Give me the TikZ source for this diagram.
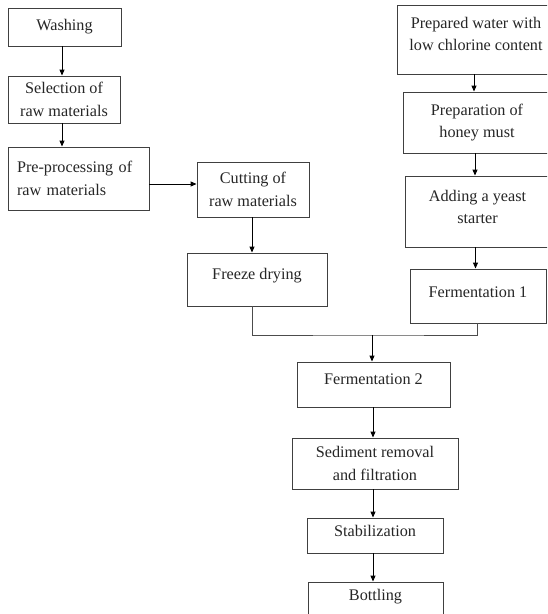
\documentclass[tikz,border=0pt]{standalone}
\usepackage{fontspec}
\setmainfont{Liberation Serif}
\usetikzlibrary{arrows.meta,calc}
\newcommand\liftup[2]{\raisebox{#1}[\height][\depth]{\begin{tabular}{@{}c@{}}#2\end{tabular}}}
\begin{document}
\begin{tikzpicture}[x=1pt,y=-1pt,
  box/.style={draw=black!75, line width=0.9pt, fill=white, align=center, inner sep=0pt,
    font=\fontsize{16.2}{22.5}\selectfont, text=black!85},
  arr/.style={draw=black, line width=0.9pt, -{Triangle[length=6pt,width=5pt]}},
  ln/.style={draw=black!70, line width=0.9pt}]
\useasboundingbox (0,0) rectangle (547,614);
\clip (0,0) rectangle (547,614);
\fill[white] (0,0) rectangle (547,614);
% left column
\node[box, minimum width=113pt, minimum height=38pt] (wash) at (64.5,27) {Washing};
\node[box, minimum width=112pt, minimum height=47pt] (sel) at (64,99.5) {Selection of\\raw materials};
\node[box, minimum width=141pt, minimum height=63pt, text width=123pt, align=left] (pre) at (78.5,178.5) {Pre-processing of\\raw materials};
\node[box, minimum width=112pt, minimum height=55pt] (cut) at (253,189.5) {Cutting of\\raw materials};
\node[box, minimum width=140pt, minimum height=53pt] (frz) at (257,279.5) {\liftup{4.5pt}{Freeze drying}};
% right column
\node[box, minimum width=158pt, minimum height=69pt] (wat) at (476,39.5) {\liftup{4.5pt}{Prepared water with\\low chlorine content}};
\node[box, minimum width=148pt, minimum height=61pt] (hon) at (477,122.5) {Preparation of\\honey must};
\node[box, minimum width=145pt, minimum height=71pt] (yst) at (477.5,211.5) {\liftup{3.5pt}{Adding a yeast\\starter}};
\node[box, minimum width=136pt, minimum height=54pt] (f1) at (478,296) {\liftup{3pt}{Fermentation 1}};
% bottom column
\node[box, minimum width=153pt, minimum height=45pt] (f2) at (373.5,384.5) {\liftup{4.5pt}{Fermentation 2}};
\node[box, minimum width=166pt, minimum height=51pt] (sed) at (375,463.5) {Sediment removal\\and filtration};
\node[box, minimum width=136pt, minimum height=35pt] (stab) at (375,535.5) {\liftup{3.5pt}{Stabilization}};
\node[box, minimum width=135pt, minimum height=38pt] (bot) at (375.5,601) {\liftup{5pt}{Bottling}};
% connectors
\draw[arr] ([xshift=-2.5pt]wash.south) -- ([xshift=-2.5pt]wash.south |- sel.north);
\draw[arr] ([xshift=-2pt]sel.south) -- ([xshift=-2pt]sel.south |- pre.north);
\coordinate (pa) at ($(pre.east)+(0,5.5)$);
\draw[arr] (pa) -- (pa -| cut.west);
\draw[arr] ([xshift=-1pt]cut.south) -- ([xshift=-1pt]cut.south |- frz.north);
\draw[arr] ([xshift=-2pt]wat.south) -- ([xshift=-2pt]wat.south |- hon.north);
\draw[arr] ([xshift=-2pt]hon.south) -- ([xshift=-2pt]hon.south |- yst.north);
\draw[arr] ([xshift=-2pt]yst.south) -- ([xshift=-2pt]yst.south |- f1.north);
\coordinate (j) at (372,335);
\coordinate (fl) at ($(frz.south)+(-5,0)$);
\coordinate (fr) at ($(f1.south)+(-1,0)$);
\draw[ln] (fl) |- (j) -| (fr);
\draw[arr] (j) -- (j |- f2.north);
\draw[arr] ([xshift=-0.5pt]f2.south) -- ([xshift=-0.5pt]f2.south |- sed.north);
\draw[arr] ([xshift=-2pt]sed.south) -- ([xshift=-2pt]sed.south |- stab.north);
\draw[arr] ([xshift=-2pt]stab.south) -- ([xshift=-2pt]stab.south |- bot.north);
\end{tikzpicture}
\end{document}
